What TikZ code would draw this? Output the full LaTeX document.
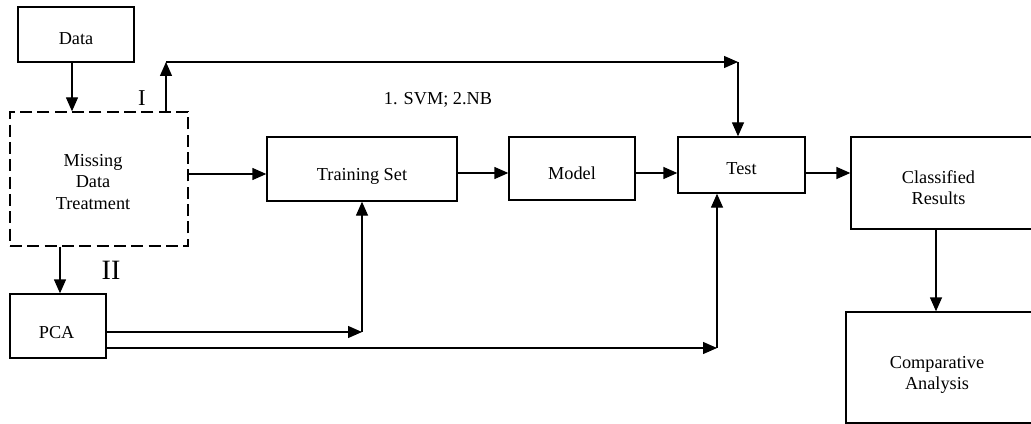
\documentclass[tikz,border=0pt]{standalone}
\usepackage{fontspec}
\setmainfont{Liberation Serif}
\usepackage{xcolor}
\usetikzlibrary{arrows.meta}

% text set a little lower (and left) than the box centre
\newcommand{\boxtext}[3]{\raisebox{-#2}[\height][\depth]{\hspace*{-#1}\begin{tabular}{@{}c@{}}#3\end{tabular}}}

\begin{document}
\begin{tikzpicture}[x=0.75pt,y=-0.75pt,
		box/.style={draw,line width=1pt,inner sep=0pt,font=\fontsize{13.7}{16}\selectfont},
		arr/.style={line width=1pt,-{Triangle[length=10.5pt,width=9pt]}}]
		\useasboundingbox (0,0) rectangle (1031,424);
		\node[box,minimum width=87pt,minimum height=41.25pt] (data) at (76,34.5) {\boxtext{0pt}{4.25pt}{Data}};
		\node[box,dashed,dash pattern=on 9pt off 4pt,minimum width=133.5pt,minimum height=100.5pt] (mdt) at (99,179) {\boxtext{9pt}{3.5pt}{Missing\\Data\\Treatment}};
		\node[box,minimum width=72pt,minimum height=48pt] (pca) at (58,326) {\boxtext{2pt}{6pt}{PCA}};
		\node[box,minimum width=142.5pt,minimum height=48pt] (train) at (362,169) {\boxtext{0pt}{5.25pt}{Training Set}};
		\node[box,minimum width=94.5pt,minimum height=47.25pt] (model) at (572,168.5) {\boxtext{0pt}{5pt}{Model}};
		\node[box,minimum width=95.25pt,minimum height=42pt] (test) at (741.5,165) {\boxtext{0pt}{3.75pt}{Test}};
		\node[box,minimum width=141.75pt,minimum height=69pt] (result) at (945.5,183) {\boxtext{10.5pt}{5pt}{Classified\\Results}};
		\node[box,minimum width=145.5pt,minimum height=83.25pt] (compare) at (943,367.5) {\boxtext{9pt}{5.25pt}{Comparative\\Analysis}};

		\node[font=\fontsize{17}{17}\selectfont] (one) at (142,98) {I};
		\node[font=\fontsize{21}{21}\selectfont] (two) at (111,270) {II};
		\node[font=\fontsize{13.7}{16}\selectfont] (algo) at (438,100) {1. SVM; 2.NB};

		\coordinate (upI) at (166,62);
		\coordinate (topR) at (738,62);
		\coordinate (pcaA) at (362,332);
		\coordinate (pcaB) at (717,348);

		\draw[arr] (data.south -| 72,0) -- (mdt.north -| 72,0);
		\draw[arr] (mdt.north -| upI) -- (upI);
		\draw[arr] (upI) -- (topR);
		\draw[arr] (topR) -- (test.north -| topR);
		\draw[arr] (mdt.east |- 0,174) -- (train.west |- 0,174);
		\draw[arr] (train.east |- 0,173) -- (model.west |- 0,173);
		\draw[arr] (model.east |- 0,173) -- (test.west |- 0,173);
		\draw[arr] (test.east |- 0,173) -- (result.west |- 0,173);
		\draw[arr] (mdt.south -| 60,0) -- (pca.north -| 60,0);
		\draw[arr] (pca.east |- pcaA) -- (pcaA);
		\draw[arr] (pcaA) -- (train.south -| pcaA);
		\draw[arr] (pca.east |- pcaB) -- (pcaB);
		\draw[arr] (pcaB) -- (test.south -| pcaB);
		\draw[arr] (result.south -| 936,0) -- (compare.north -| 936,0);
\end{tikzpicture}
\end{document}
